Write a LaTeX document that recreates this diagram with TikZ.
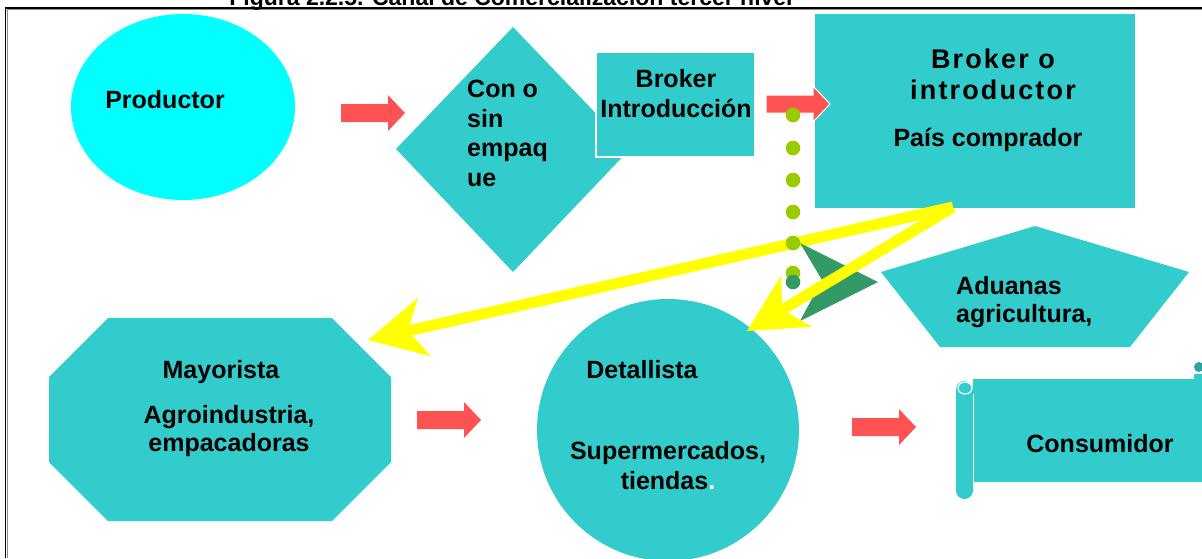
\documentclass[tikz,border=0pt]{standalone}
\usepackage{fontspec}
\setmainfont{Liberation Sans}
\newfontfamily\spacedfont[LetterSpace=8]{Liberation Sans Bold}
\usetikzlibrary{arrows.meta}
\definecolor{tealA}{HTML}{33CCCC}
\definecolor{tealB}{HTML}{2AA5A5}
\definecolor{cyanA}{HTML}{00FFFF}
\definecolor{redA}{HTML}{FF5353}
\definecolor{dotG}{HTML}{99CC00}
\definecolor{darkG}{HTML}{339966}
\definecolor{yelA}{HTML}{FFFF00}
\begin{document}
\begin{tikzpicture}[x=1pt,y=-1pt,
  txt/.style={font=\bfseries\fontsize{25}{30}\selectfont, inner sep=0pt, anchor=base, text=black},
  txtw/.style={txt, anchor=base west},
  txts/.style={txt, font=\spacedfont\fontsize{27}{31}\selectfont},
  blockarrow/.pic={\path[fill=redA, pic actions] (0,-9) -- (47,-9) -- (47,-18) -- (64,0) -- (47,18) -- (47,9) -- (0,9) -- cycle;},
  yarrow/.style={draw=yelA, line width=11pt, -{Stealth[length=58pt,width=60pt,inset=17pt,line width=0pt]}},
  greendot/.style={fill=dotG}
]
\useasboundingbox (0,0) rectangle (1202,558);
\fill[white] (0,0) rectangle (1202,558);

% frame and clipped title
\draw[black!45, line width=0.8pt] (7.5,558) -- (7.5,9.8) -- (1202,9.8);
\draw[black, line width=1.6pt] (5.5,558) -- (5.5,8) -- (1202,8);
\node[font=\bfseries\fontsize{23}{27}\selectfont, inner sep=0pt, anchor=base] (title) at (511,5) {Figura 2.2.5. Canal de Comercialización tercer nivel};

% Productor
\fill[cyanA] (183,107) ellipse (112 and 93);
\node[txt] (prod) at (165,108) {Productor};

% Con o sin empaque (diamond)
\fill[tealA] (513,27) -- (630,149) -- (513,272) -- (396,149) -- cycle;
\node[txtw] (con1) at (467,97) {Con o};
\node[txtw] (con2) at (467,127) {sin};
\node[txtw] (con3) at (467,156) {empaq};
\node[txtw] (con4) at (467,186) {ue};

% Broker Introduccion
\filldraw[fill=tealA, draw=white, line width=1.5pt] (596,52) rectangle (755,157);
\node[txt] (bi1) at (676,87) {Broker};
\node[txt] (bi2) at (676,117) {Introducción};

% Broker o introductor
\fill[tealA] (815,14) rectangle (1135,208);
\node[txts] (bo1) at (993,68) {Broker o};
\node[txts] (bo2) at (993,99) {introductor};
\node[txt] (pais) at (988,146) {País comprador};

% Aduanas
\fill[tealA] (1035,226) -- (1189,272) -- (1130,347) -- (940,347) -- (881,272) -- cycle;
\node[txtw] (adu1) at (956,294) {Aduanas};
\node[txtw] (adu2) at (956,322) {agricultura,};

% Mayorista
\fill[tealA] (108,318) -- (332,318) -- (391,377) -- (391,462) -- (332,521) -- (108,521) -- (49,462) -- (49,377) -- cycle;
\node[txt] (may) at (221,378) {Mayorista};
\node[txt] (agro) at (229,423) {Agroindustria,};
\node[txt] (emp) at (229,451) {empacadoras};

% Detallista
\fill[tealA] (668,430) circle (131);
\node[txt] (det) at (642,378) {Detallista};
\node[txt] (sup) at (668,459) {Supermercados,};
\node[txt] (tie) at (668,489) {tiendas\textcolor{white}{.}};

% Consumidor scroll
\fill[tealA] (973,379) rectangle (1210,482);
\fill[tealA, rounded corners=8.5pt] (956,381) rectangle (973,499);
\draw[white, line width=1pt] (973,394) -- (973,482);
\draw[white, line width=1.2pt] (965,388) ellipse (7 and 6);
\fill[tealB] (1199,367) circle (5);
\fill[tealA] (1194,374) rectangle (1202,379);
\node[txt] (cons) at (1100,452) {Consumidor};

% red block arrows
\pic at (341,113) {blockarrow};
\pic[draw=white, line width=1pt] at (766,104) {blockarrow};
\pic at (417,420) {blockarrow};
\pic at (852,427) {blockarrow};

% yellow arrows
\coordinate (ys) at (953,207);
\coordinate (tipM) at (368,340);
\coordinate (tipD) at (747,331);
\draw[yarrow] (ys) -- (tipM);

% green dots
\foreach \yy in {115,148,180,212,243,273} \fill[greendot] (793,\yy) circle (7.3);
\fill[darkG] (793,282) circle (7.3);
\fill[darkG] (800,243) -- (878,282) -- (800,321) -- (822,280) -- cycle;

\draw[yarrow] (ys) -- (tipD);
\end{tikzpicture}
\end{document}
